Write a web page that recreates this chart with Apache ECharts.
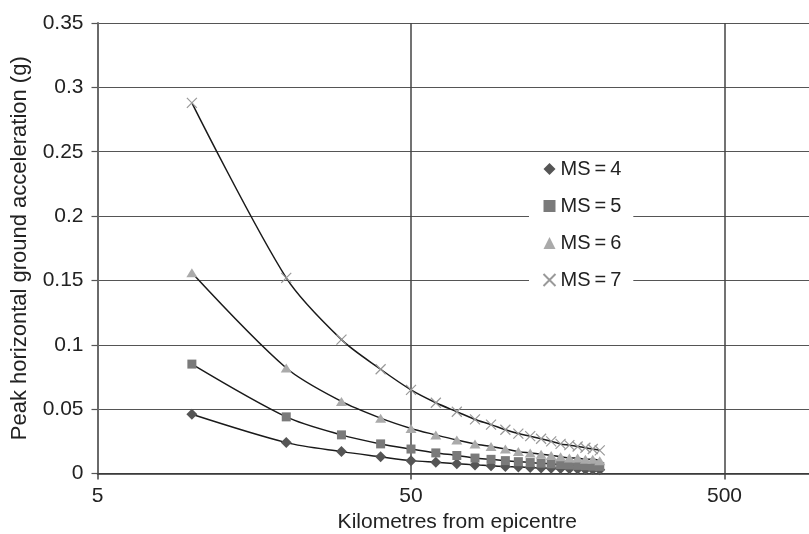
<!DOCTYPE html>
<html>
<head>
<meta charset="UTF-8">
<title>Peak horizontal ground acceleration</title>
<style>
  html, body { margin: 0; padding: 0; background: #fff; }
  #chart { width: 809px; height: 534px; }
</style>
</head>
<body>
<div id="chart"></div>
<script src="https://cdn.jsdelivr.net/npm/echarts@6/dist/echarts.min.js"></script>
<script>
// distances from epicentre (km)
var distances = [10, 20, 30, 40, 50, 60, 70, 80, 90, 100, 110, 120, 130, 140, 150, 160, 170, 180, 190, 200];

// peak horizontal ground acceleration (g)
var ms4 = [0.046, 0.024, 0.017, 0.013, 0.010, 0.0087, 0.0076, 0.0067, 0.0060, 0.0054, 0.0050, 0.0046, 0.0043, 0.0040, 0.0038, 0.0036, 0.0034, 0.0032, 0.0031, 0.0029];
var ms5 = [0.085, 0.044, 0.030, 0.023, 0.019, 0.016, 0.014, 0.012, 0.011, 0.010, 0.0092, 0.0085, 0.0080, 0.0075, 0.0070, 0.0066, 0.0063, 0.0060, 0.0057, 0.0055];
var ms6 = [0.156, 0.082, 0.056, 0.043, 0.035, 0.030, 0.026, 0.023, 0.021, 0.019, 0.017, 0.016, 0.015, 0.014, 0.013, 0.012, 0.012, 0.011, 0.011, 0.010];
var ms7 = [0.288, 0.152, 0.104, 0.081, 0.065, 0.055, 0.048, 0.042, 0.038, 0.034, 0.031, 0.029, 0.027, 0.025, 0.023, 0.022, 0.021, 0.020, 0.019, 0.018];

var seriesNames = ['MS\u2009=\u20094', 'MS\u2009=\u20095', 'MS\u2009=\u20096', 'MS\u2009=\u20097'];
var xTicks = [5, 50, 500];

var crossPath = 'path://M0,0L10,10M10,0L0,10';
var font = '"Liberation Sans", Arial, Helvetica, sans-serif';

function pairs(vals) {
    return distances.map(function (d, i) { return [d, vals[i]]; });
}

function makeSeries(name, vals, symbol, size, itemStyle) {
    return {
        name: name,
        type: 'line',
        data: pairs(vals),
        smooth: 0.3,
        symbol: symbol,
        symbolSize: size,
        showSymbol: true,
        itemStyle: itemStyle,
        lineStyle: { color: '#1a1a1a', width: 1.5 },
        emphasis: { disabled: true },
        animation: false
    };
}

var myChart = echarts.init(document.getElementById('chart'));

var option = {
    backgroundColor: '#fff',
    textStyle: { fontFamily: font },
    grid: { left: 97.5, top: 23, bottom: 60.5, right: 0, outerBoundsMode: 'none' },
    legend: {
        orient: 'vertical',
        left: 529,
        top: 153,
        padding: [6, 12, 8, 12],
        backgroundColor: '#fff',
        itemWidth: 12,
        itemHeight: 12,
        itemGap: 17,
        textStyle: { fontSize: 20, color: '#222', fontFamily: font },
        data: [
            { name: seriesNames[0], icon: 'diamond' },
            { name: seriesNames[1], icon: 'rect' },
            { name: seriesNames[2], icon: 'triangle' },
            { name: seriesNames[3], icon: crossPath }
        ],
        selectedMode: false
    },
    xAxis: {
        type: 'log',
        logBase: 10,
        min: 5,
        max: 930,
        name: 'Kilometres from epicentre',
        nameLocation: 'middle',
        nameGap: 38,
        nameTextStyle: { fontSize: 21, color: '#222', fontFamily: font, padding: [0, 0, 0, 8] },
        axisLine: { show: true, lineStyle: { color: '#333', width: 1.5 } },
        axisTick: { show: true, customValues: xTicks, length: 6, lineStyle: { color: '#444', width: 1.5 } },
        axisLabel: { customValues: xTicks, fontSize: 21, color: '#222', margin: 12, fontFamily: font },
        splitLine: { show: true, lineStyle: { color: '#444', width: 1.5 } },
        minorTick: { show: false },
        minorSplitLine: { show: false }
    },
    yAxis: {
        type: 'value',
        min: 0,
        max: 0.35,
        interval: 0.05,
        name: 'Peak horizontal ground acceleration (g)',
        nameLocation: 'middle',
        nameGap: 67,
        nameTextStyle: { fontSize: 22, color: '#222', fontFamily: font },
        axisLine: { show: true, lineStyle: { color: '#6a6a6a', width: 2 } },
        axisTick: { show: true, length: 6, lineStyle: { color: '#555', width: 1.2 } },
        axisLabel: { fontSize: 21, color: '#222', margin: 14, fontFamily: font },
        splitLine: { show: true, lineStyle: { color: '#555', width: 1.2 } }
    },
    series: [
        makeSeries(seriesNames[0], ms4, 'diamond', 11, { color: '#555' }),
        makeSeries(seriesNames[1], ms5, 'rect', 9, { color: '#7a7a7a' }),
        makeSeries(seriesNames[2], ms6, 'triangle', [11, 9], { color: '#aaa' }),
        makeSeries(seriesNames[3], ms7, crossPath, 10, { color: 'none', borderColor: '#999', borderWidth: 1.2 })
    ]
};

myChart.setOption(option);
</script>
</body>
</html>
